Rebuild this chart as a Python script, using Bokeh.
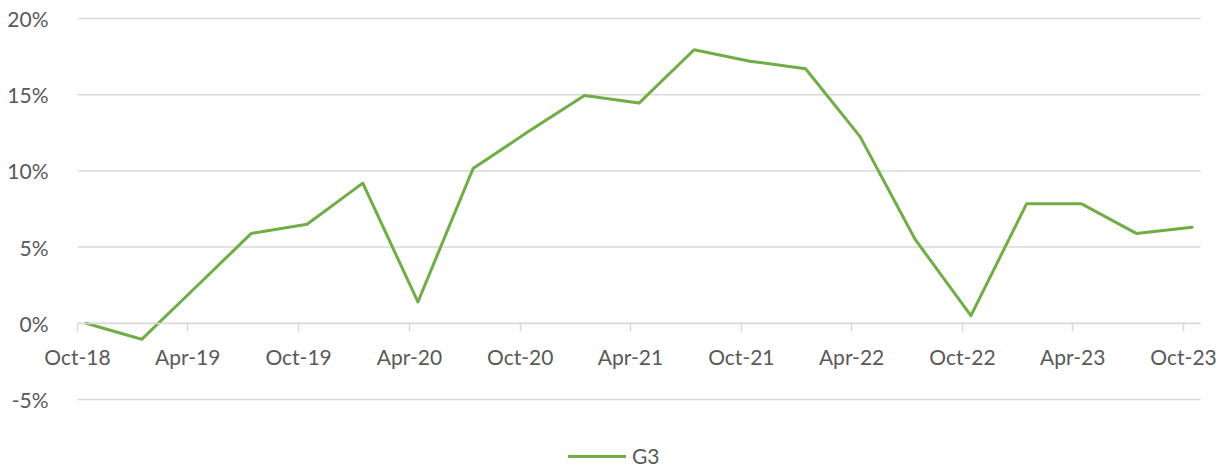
from datetime import datetime, timedelta
import pandas as pd
from bokeh.plotting import figure
from bokeh.models import (Range1d, FixedTicker, DatetimeTickFormatter, PrintfTickFormatter,
                          Legend, LegendItem, ColumnDataSource)
from bokeh.embed import file_html
from bokeh.resources import INLINE

# ---- data ----
dates = ["2018-10-15", "2019-01-15", "2019-04-15", "2019-07-15", "2019-10-15",
         "2020-01-15", "2020-04-15", "2020-07-15", "2020-10-15", "2021-01-15",
         "2021-04-15", "2021-07-15", "2021-10-15", "2022-01-15", "2022-04-15",
         "2022-07-15", "2022-10-15", "2023-01-15", "2023-04-15", "2023-07-15",
         "2023-10-15"]
g3 = [0.0, -1.05, 2.4, 5.9, 6.5,
      9.2, 1.4, 10.15, 12.6, 14.95,
      14.45, 17.95, 17.2, 16.7, 12.25,
      5.5, 0.5, 7.85, 7.85, 5.9,
      6.3]
series_name = "G3"
tick_dates = ["2018-10-01", "2019-04-01", "2019-10-01", "2020-04-01", "2020-10-01",
              "2021-04-01", "2021-10-01", "2022-04-01", "2022-10-01", "2023-04-01",
              "2023-10-01"]
y_ticks = [-5, 0, 5, 10, 15, 20]

# ---- layout ----
W, H = 1229, 472
AREA_L, AREA_R, AREA_T, AREA_B = 77, 1200, 18, 399   # plot-area pixels
x_start, x_end = datetime(2018, 10, 1), datetime(2023, 10, 29)
y_lo, y_hi = -5.0, 20.0

def ms(d):
    return pd.Timestamp(d).value / 1e6

days_per_px = (x_end - x_start).total_seconds() / 86400 / (AREA_R - AREA_L)
val_per_px = (y_hi - y_lo) / (AREA_B - AREA_T)
xr = Range1d(x_start - timedelta(days=AREA_L * days_per_px),
             x_end + timedelta(days=(W - AREA_R) * days_per_px))
yr = Range1d(y_lo - (H - AREA_B) * val_per_px, y_hi + AREA_T * val_per_px)

TEXT = "#595959"
GRID = "#D9D9D9"
GREEN = "#70AD47"
FONT = "Lato"
FS = "21px"

src = ColumnDataSource(dict(x=pd.to_datetime(dates), y=g3))

p = figure(width=W, height=H, output_backend="svg", toolbar_location=None,
           x_axis_type="datetime", x_range=xr, y_range=yr,
           min_border=0)
p.outline_line_color = None
p.background_fill_color = "white"
p.border_fill_color = "white"

# horizontal gridlines limited to the plot area
p.segment(x0=[x_start] * len(y_ticks), x1=[x_end] * len(y_ticks), y0=y_ticks, y1=y_ticks,
          line_color=GRID, line_width=1.5, level="underlay")

r = p.line("x", "y", source=src, line_color=GREEN, line_width=3,
           line_join="round", line_cap="round")

p.xgrid.visible = False
p.ygrid.visible = False

# x axis at zero
xa = p.xaxis[0]
xa.fixed_location = 0
xa.bounds = (ms(x_start), ms(x_end))
xa.ticker = FixedTicker(ticks=[ms(d) for d in tick_dates])
xa.formatter = DatetimeTickFormatter(months="%b-%y", days="%b-%y", years="%b-%y")
xa.axis_line_color = GRID
xa.axis_line_width = 1.5
xa.major_tick_line_color = GRID
xa.major_tick_line_width = 1.5
xa.major_tick_out = 8
xa.major_tick_in = 0
xa.minor_tick_line_color = None
xa.major_label_text_font = FONT
xa.major_label_text_font_size = FS
xa.major_label_text_color = TEXT
xa.major_label_standoff = 13

ya = p.yaxis[0]
ya.fixed_location = ms(x_start)
ya.ticker = FixedTicker(ticks=y_ticks)
ya.formatter = PrintfTickFormatter(format="%d%%")
ya.axis_line_color = None
ya.major_tick_line_color = None
ya.minor_tick_line_color = None
ya.major_tick_out = 0
ya.major_label_standoff = 29
ya.major_label_text_font = FONT
ya.major_label_text_font_size = FS
ya.major_label_text_color = TEXT

legend = Legend(items=[LegendItem(label=series_name, renderers=[r])],
                location=(568, 4), padding=0, margin=0,
                glyph_width=58, glyph_height=20, label_height=20, label_standoff=6,
                label_text_font=FONT, label_text_font_size=FS, label_text_color=TEXT,
                border_line_color=None, background_fill_alpha=0)
p.add_layout(legend, "center")

open("out.html", "w").write(file_html(p, INLINE))
